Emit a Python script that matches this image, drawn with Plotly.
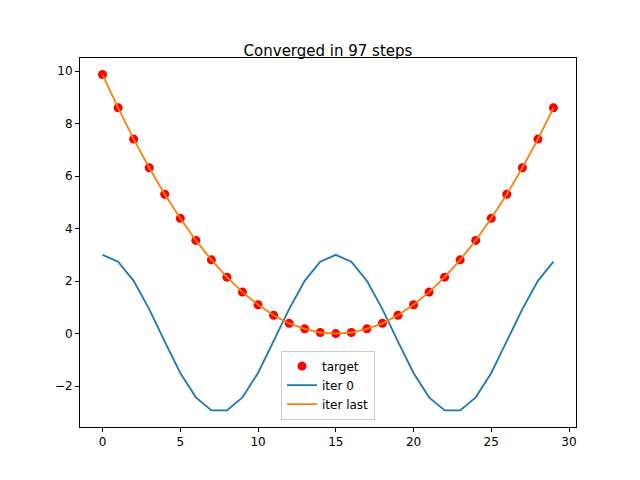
import plotly.graph_objects as go

x = list(range(30))
target = [9.87, 8.60, 7.41, 6.32, 5.31, 4.39, 3.55, 2.81, 2.15, 1.58, 1.10, 0.70, 0.39, 0.18, 0.04,
          0.00, 0.04, 0.18, 0.39, 0.70, 1.10, 1.58, 2.15, 2.81, 3.55, 4.39, 5.31, 6.32, 7.41, 8.60]
iter0 = [3.0, 2.74, 2.01, 0.93, -0.31, -1.5, -2.43, -2.93, -2.93, -2.43, -1.5, -0.31, 0.93, 2.01, 2.74,
         3.0, 2.74, 2.01, 0.93, -0.31, -1.5, -2.43, -2.93, -2.93, -2.43, -1.5, -0.31, 0.93, 2.01, 2.74]
iterlast = target

fig = go.Figure()
fig.add_trace(go.Scatter(x=x, y=target, mode="markers", name="target",
                         marker=dict(color="red", size=9)))
fig.add_trace(go.Scatter(x=x, y=iter0, mode="lines", name="iter 0",
                         line=dict(color="#1f77b4", width=1.8)))
fig.add_trace(go.Scatter(x=x, y=iterlast, mode="lines", name="iter last",
                         line=dict(color="#ff7f0e", width=1.8)))

ax = dict(showgrid=False, zeroline=False, showline=True, linecolor="black", mirror=True,
          ticks="outside", ticklen=4, tickcolor="black", tickfont=dict(size=12, color="black"))
fig.update_layout(
    width=640, height=480, plot_bgcolor="white", paper_bgcolor="white",
    font=dict(family="DejaVu Sans", color="black"),
    title=dict(text="Converged in 97 steps", x=0.5, xanchor="center", y=0.91, yanchor="middle",
               font=dict(size=15)),
    margin=dict(l=72, r=72, t=50, b=61),
    xaxis=dict(range=[-1.45, 30.45], tickvals=[0, 5, 10, 15, 20, 25, 30], **ax),
    yaxis=dict(range=[-3.56, 10.5], tickvals=[-2, 0, 2, 4, 6, 8, 10],
               ticktext=["\u22122", "0", "2", "4", "6", "8", "10"], **ax),
    legend=dict(x=0.5, xanchor="center", y=0.02, yanchor="bottom", bordercolor="#ccc",
                borderwidth=1, bgcolor="rgba(255,255,255,0.8)", font=dict(size=12)),
    showlegend=True,
)
fig.write_html("out.html")
